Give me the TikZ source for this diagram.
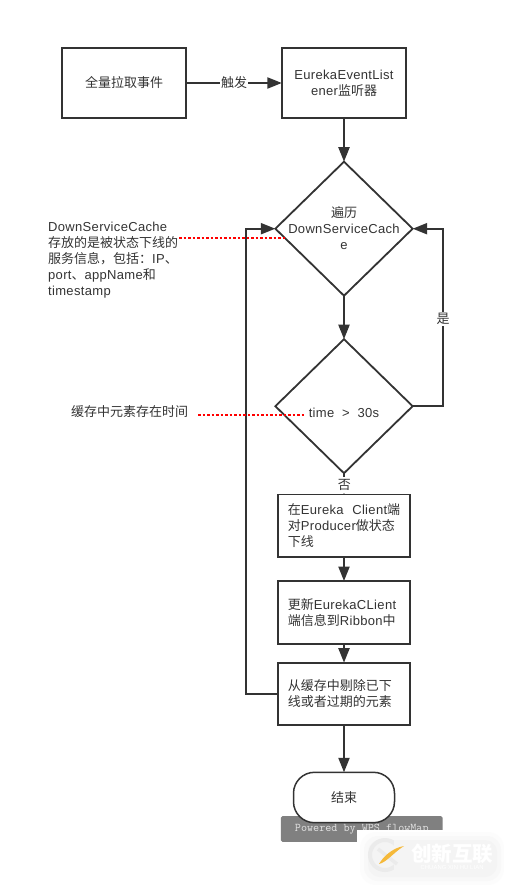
\documentclass[tikz,border=0pt]{standalone}
\usepackage{fontspec}
\setmainfont[LetterSpace=2.5]{Liberation Sans}
\newfontfamily\cjkfont{Noto Sans CJK SC}
\usetikzlibrary{arrows.meta,positioning,calc,shapes.geometric}
\definecolor{FlowInk}{HTML}{333333}
\definecolor{StampGrey}{HTML}{808080}
\definecolor{StampText}{HTML}{E2E2E2}
\definecolor{LogoRing}{HTML}{EBEBEB}
\definecolor{LogoHalo}{HTML}{F4F4F4}
\definecolor{LogoGlow}{HTML}{F8F8F8}
\definecolor{LogoEdge}{HTML}{FCFCFC}
\definecolor{LogoGold}{HTML}{F5B93A}
\newcommand{\zh}[1]{{\cjkfont #1}}
\newcommand{\flowfont}{\fontsize{13}{16}\selectfont}

\begin{document}
\begin{tikzpicture}[
    x=1pt,y=-1pt,
    font=\flowfont,
    flowbox/.style={
      draw=FlowInk,
      line width=1.9pt,
      fill=white,
      outer sep=0pt,
      inner ysep=0pt,
      inner xsep=10pt,
      text width=112.3pt,
      minimum height=62.5pt,
      align=left,
      text=FlowInk
    },
    startbox/.style={
      draw=FlowInk,
      line width=1.9pt,
      fill=white,
      outer sep=0pt,
      inner sep=0pt,
      minimum width=124.3pt,
      minimum height=70.3pt,
      align=center,
      text=FlowInk
    },
    decision/.style={
      diamond,
      draw=FlowInk,
      line width=1.8pt,
      outer sep=0pt,
      inner sep=0pt,
      minimum width=137.3pt,
      minimum height=134pt
    },
    endcap/.style={
      draw=FlowInk,
      line width=1.5pt,
      fill=white,
      outer sep=0pt,
      rounded corners=21pt,
      minimum width=101pt,
      minimum height=50.4pt,
      text=FlowInk
    },
    arrow/.style={
      -{Triangle[length=14.5pt,width=11pt]},
      line width=2.1pt,
      color=FlowInk
    },
    edgelabel/.style={
      fill=white,
      inner xsep=1pt,
      inner ysep=1pt,
      text=FlowInk
    },
    note/.style={
      align=left,
      inner sep=0pt,
      text=FlowInk,
      anchor=west
    },
    redlink/.style={
      color=red,
      line width=1.4pt,
      dash pattern=on 2.5pt off 2pt
    }
  ]
  \useasboundingbox[fill=white] (0,0) rectangle (504,885);

  % Stamp behind the end node
  \node[fill=StampGrey,rounded corners=1.5pt,minimum width=161.7pt,minimum height=25.7pt,
        inner sep=0pt,text=StampText,font=\ttfamily\fontsize{11.8}{12}\selectfont] (stamp) at (361.8,829)
    {Powered by WPS flowMap};

  % Top row
  \node[startbox] (fullpull) at (124,83) {\zh{全量拉取事件}};
  \node[startbox] (listener) at (344,83) {EurekaEventList\\ener\zh{监听器}};

  % Decisions
  \node[decision] (traverse) at (344,228.7) {};
  \node[text=FlowInk,align=center,inner sep=0pt] (traversetext) at (344,228)
    {\zh{遍历}\\DownServiceCach\\e};
  \node[decision] (timecheck) at (344,406.2) {};
  \node[text=FlowInk,inner sep=0pt] (timetext) at (344,413) {time\ \ >\ \ 30s};

  % Process boxes
  \node[flowbox] (offline) at (344,525.7)
    {\mbox{\zh{在}Eureka\ \ Client\zh{端}}\\\zh{对}Producer\zh{做状态}\\\zh{下线}};
  \node[flowbox] (refresh) at (344,612.3)
    {\zh{更新}EurekaCLient\\\zh{端信息到}Ribbon\zh{中}};
  \node[flowbox] (purge) at (344,693.9)
    {\zh{从缓存中剔除已下}\\\zh{线或者过期的元素}};
  \node[endcap] (finish) at (344,797.5) {\zh{结束}};

  % Arrows
  \draw[arrow] (fullpull.east) -- (listener.west) node[midway,edgelabel] (fire) {\zh{触发}};
  \draw[arrow] (listener.south) -- (traverse.north);
  \draw[arrow] (traverse.south) -- (timecheck.north);
  \draw[arrow] (timecheck.south) -- (offline.north);
  \node[fill=white,inner sep=0pt,minimum height=16pt,minimum width=16pt,text=FlowInk] (nolabel) at (344.3,485.2) {\zh{否}};
  \draw[arrow] (offline.south) -- (refresh.north);
  \draw[arrow] (refresh.south) -- (purge.north);
  \draw[arrow] (purge.south) -- (finish.north);

  % Loops
  \draw[arrow] (timecheck.east) -- ++(30,0) coordinate (loopright) |- (traverse.east);
  \node[edgelabel] (yeslabel) at (443,319) {\zh{是}};
  \draw[arrow] (purge.west) -- ++(-31.7,0) coordinate (loopleft) |- (traverse.west);

  % Notes
  \node[note] (cachenote) at (48,260)
    {DownServiceCache\\\zh{存放的是被状态下线的}\\\zh{服务信息，包括：}IP\zh{、}\\port\zh{、}appName\zh{和}\\timestamp};
  \node[note] (agenote) at (71,412) {\zh{缓存中元素存在时间}};

  \coordinate (cachefrom) at (179,238);
  \coordinate (cacheto) at (285,238);
  \coordinate (agefrom) at (198,415);
  \coordinate (ageto) at (305,415);
  \draw[redlink] (cachefrom) -- (cacheto);
  \draw[redlink] (agefrom) -- (ageto);

  % Logo corner
  \fill[white] (357,830) rectangle (504,885);
  \fill[LogoEdge,rounded corners=16pt] (360,832) rectangle (504,885);
  \fill[LogoGlow,rounded corners=14pt] (364,836) rectangle (501,881);
  \fill[LogoHalo,rounded corners=12pt] (368,840) rectangle (497,877);
  \draw[LogoRing,line width=4pt] (385,855) circle (15pt);
  \fill[LogoHalo] (394,840) rectangle (405,870);
  \draw[LogoRing,line width=3.5pt] (378,849) -- (397,864);
  \fill[LogoGold] (404,846) .. controls (392,848) and (383,857) .. (379,864) .. controls (387,862) and (393,853) .. (404,846);
  \node[text=white,inner sep=0pt,font=\cjkfont\bfseries\fontsize{20.5}{21}\selectfont] (brand) at (452,853.5) {创新互联};
  \node[text=white,inner sep=0pt,font=\fontsize{5.8}{6}\selectfont] (brandpinyin) at (452,867.5) {CHUANG XIN HU LIAN};
\end{tikzpicture}
\end{document}
